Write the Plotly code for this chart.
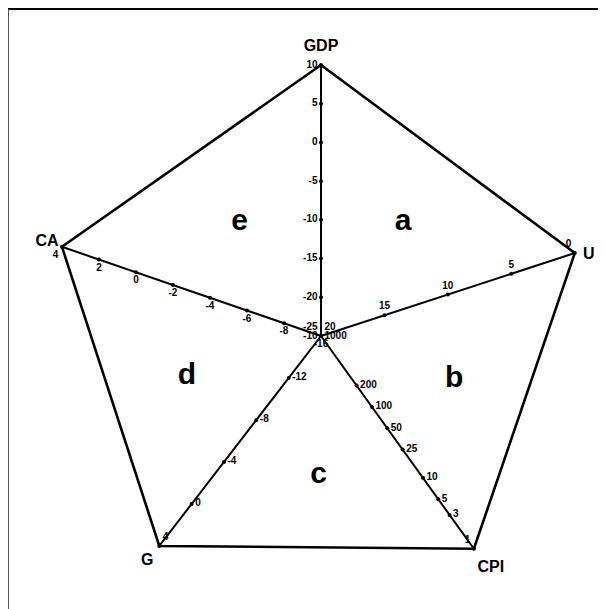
import math
import plotly.graph_objects as go

# Datos de los ejes del pentágono
ejes = ['GDP', 'U', 'CPI', 'G', 'CA']
gdp_ticks = [10, 5, 0, -5, -10, -15, -20, -25]
u_ticks = [0, 5, 10, 15, 20]
cpi_ticks = [1, 3, 5, 10, 25, 50, 100, 200, 1000]
g_ticks = [4, 0, -4, -8, -12, -16]
ca_ticks = [4, 2, 0, -2, -4, -6, -8, -10]
regiones = ['a', 'b', 'c', 'd', 'e']

ticks = {'GDP': gdp_ticks, 'U': u_ticks, 'CPI': cpi_ticks, 'G': g_ticks, 'CA': ca_ticks}
log_eje = {'GDP': False, 'U': False, 'CPI': True, 'G': False, 'CA': False}

# geometría (centro, ángulo y longitud de cada eje, en píxeles de la página)
cx, cy = 321, 336
angulo = {'GDP': 90, 'U': 18.1, 'CPI': -54.3, 'G': -127.6, 'CA': 161}
largo = {'GDP': 271, 'U': 267, 'CPI': 262, 'G': 265, 'CA': 274}
pos_texto = {'GDP': 'middle left', 'U': 'top center', 'CPI': 'middle right',
             'G': 'middle right', 'CA': 'bottom center'}
pos_extremo = {'GDP': 'middle left', 'U': 'top left', 'CPI': 'top left',
               'G': 'top right', 'CA': 'bottom left'}
pos_centro = {'GDP': 'top left', 'U': 'top right', 'CPI': 'middle right',
              'G': 'bottom center', 'CA': 'middle left'}
desp_nombre = {'GDP': (0, -18), 'U': (14, 2), 'CPI': (17, 19), 'G': (-12, 15), 'CA': (-15, -5)}


def punto(eje, valor):
    t = ticks[eje]
    ext, cen = t[0], t[-1]
    if log_eje[eje]:
        f = (math.log10(valor) - math.log10(cen)) / (math.log10(ext) - math.log10(cen))
    else:
        f = (valor - cen) / (ext - cen)
    a = math.radians(angulo[eje])
    r = f * largo[eje]
    return cx + r * math.cos(a), cy - r * math.sin(a)


fig = go.Figure()

# pentágono exterior
vert = [punto(e, ticks[e][0]) for e in ejes]
vert.append(vert[0])
fig.add_trace(go.Scatter(x=[p[0] for p in vert], y=[p[1] for p in vert], mode='lines',
                         line=dict(color='black', width=2.6), hoverinfo='skip'))

for e in ejes:
    x0, y0 = punto(e, ticks[e][-1])
    x1, y1 = punto(e, ticks[e][0])
    fig.add_trace(go.Scatter(x=[x0, x1], y=[y0, y1], mode='lines',
                             line=dict(color='black', width=2), hoverinfo='skip'))
    xs = [punto(e, v)[0] for v in ticks[e]]
    ys = [punto(e, v)[1] for v in ticks[e]]
    posiciones = [pos_extremo[e]] + [pos_texto[e]] * (len(xs) - 2) + [pos_centro[e]]
    fig.add_trace(go.Scatter(x=xs, y=ys, mode='markers+text',
                             text=[str(v) for v in ticks[e]],
                             textposition=posiciones,
                             textfont=dict(family='Liberation Sans', size=10, color='black',
                                           weight='bold'),
                             marker=dict(color='black', size=4), hoverinfo='skip',
                             cliponaxis=False))
    dx, dy = desp_nombre[e]
    fig.add_trace(go.Scatter(x=[x1 + dx], y=[y1 + dy], mode='text', text=['<b>' + e + '</b>'],
                             textposition='middle center',
                             textfont=dict(family='Liberation Sans', size=16, color='black'),
                             hoverinfo='skip', cliponaxis=False))

# letras de las regiones
for i, letra in enumerate(regiones):
    e1, e2 = ejes[i], ejes[(i + 1) % 5]
    a1, a2 = angulo[e1], angulo[e2]
    if a2 > a1:
        a2 -= 360
    am = math.radians((a1 + a2) / 2)
    fig.add_trace(go.Scatter(x=[cx + 140 * math.cos(am)], y=[cy - 140 * math.sin(am)],
                             mode='text', text=['<b>' + letra + '</b>'],
                             textposition='middle center',
                             textfont=dict(family='Liberation Sans', size=30, color='black'),
                             hoverinfo='skip'))

# la página añade 8 px de margen; los rangos compensan ese desplazamiento
fig.update_layout(
    width=598, height=601, margin=dict(l=0, r=0, t=0, b=0),
    plot_bgcolor='white', paper_bgcolor='white', showlegend=False,
    xaxis=dict(range=[8, 606], visible=False),
    yaxis=dict(range=[609, 8], visible=False),
    shapes=[
        dict(type='line', xref='paper', yref='y', x0=0, x1=1, y0=9, y1=9,
             line=dict(color='black', width=2)),
        dict(type='line', xref='paper', yref='paper', x0=0, x1=0, y0=0, y1=0.9985,
             line=dict(color='#555555', width=2)),
    ],
)

fig.write_html("out.html")
